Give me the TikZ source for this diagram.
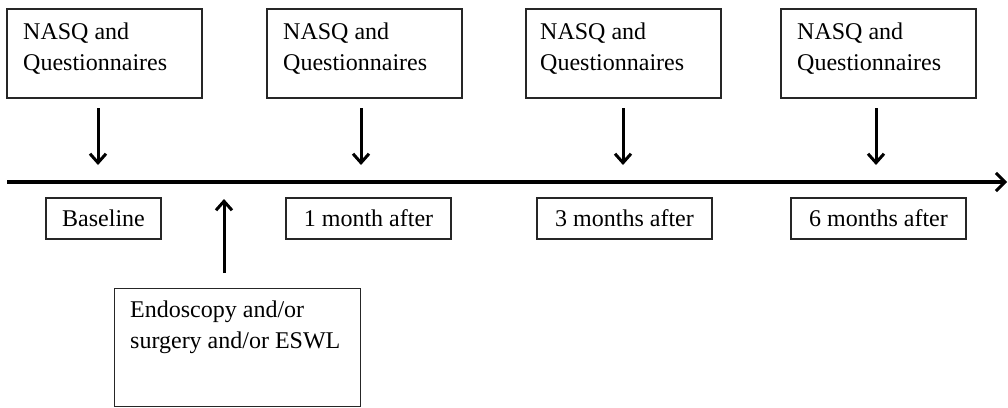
\documentclass[tikz,border=0pt]{standalone}
\usepackage{fontspec}
\setmainfont{Liberation Serif}
\usetikzlibrary{arrows.meta}

\begin{document}
\begin{tikzpicture}[x=1pt, y=-1pt,
    box/.style={draw=black!85, line width=1.4pt, inner sep=0pt},
    txt/.style={inner sep=0pt, align=left, font=\fontsize{24}{31}\selectfont},
    lbl/.style={box, font=\fontsize{24}{26}\selectfont, minimum height=41pt},
    arr/.style={line width=3pt, -{Straight Barb[length=9pt, width=16pt, line width=3pt]}}]
  \useasboundingbox (0,0) rectangle (1008,407);

  % top boxes
  \node[box, minimum width=195pt, minimum height=89pt] (q1) at (104.5,53.5) {};
  \node[box, minimum width=195pt, minimum height=89pt] (q2) at (364.5,53.5) {};
  \node[box, minimum width=195pt, minimum height=89pt] (q3) at (623.5,53.5) {};
  \node[box, minimum width=195pt, minimum height=89pt] (q4) at (878.5,53.5) {};
  \node[txt, anchor=base west] (q1t) at (23,70) {NASQ and\\Questionnaires};
  \node[txt, anchor=base west] (q2t) at (283,70) {NASQ and\\Questionnaires};
  \node[txt, anchor=base west] (q3t) at (540,70) {NASQ and\\Questionnaires};
  \node[txt, anchor=base west] (q4t) at (797,70) {NASQ and\\Questionnaires};

  % timeline
  \coordinate (tl0) at (7,182);
  \coordinate (tl1) at (1007,182);
  \draw[line width=4pt, -{Straight Barb[length=9pt, width=18pt, line width=3pt]}] (tl0) -- (tl1);

  % time point labels
  \node[lbl, minimum width=115pt] (base) at (103.5,218.5) {Baseline};
  \node[lbl, minimum width=165pt] (m1) at (368.5,218.5) {1 month after};
  \node[lbl, minimum width=175pt] (m3) at (624.5,218.5) {3 months after};
  \node[lbl, minimum width=175pt] (m6) at (878.5,218.5) {6 months after};

  % down arrows
  \foreach \i/\x in {1/98, 2/361, 3/623, 4/876}
    \draw[arr] (\x,108) -- (\x,165);

  % intervention
  \node[box, minimum width=246pt, minimum height=118pt, anchor=north west] (endo) at (114,288) {};
  \node[txt, anchor=base west] (endot) at (130,348) {Endoscopy and/or\\surgery and/or ESWL};
  \draw[arr] (endo.north -| 224,0) ++(0,-15) -- (224,199);
\end{tikzpicture}
\end{document}
